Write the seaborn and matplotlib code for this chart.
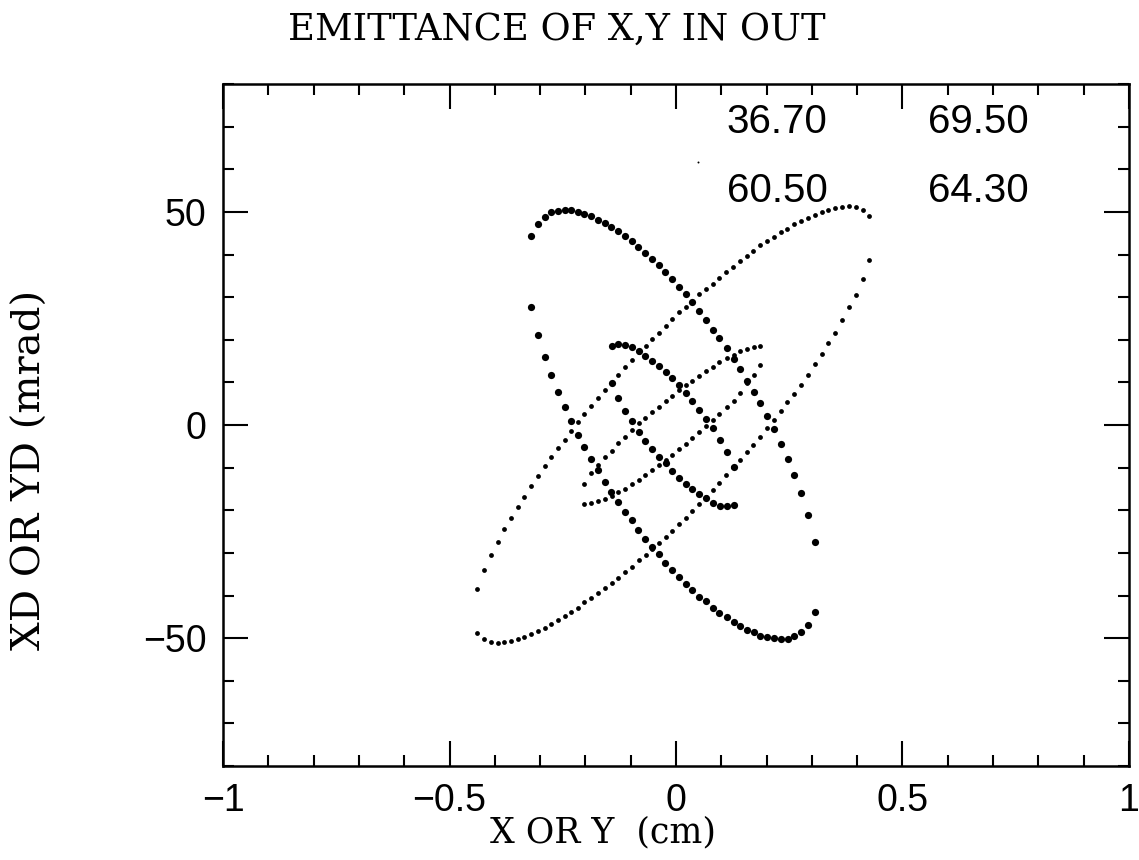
import numpy as np
import pandas as pd
import matplotlib.pyplot as plt
import seaborn as sns
from matplotlib.ticker import MultipleLocator

# big ellipse, negative tilt (heavy dots): one x grid, upper and lower arc
big_neg_x = [-0.320, -0.305, -0.290, -0.275, -0.260, -0.246, -0.231, -0.216, -0.202, -0.187, -0.172,
             -0.157, -0.143, -0.127, -0.113, -0.098, -0.083, -0.068, -0.053, -0.038, -0.024, -0.008,
             0.007, 0.021, 0.035, 0.051, 0.066, 0.081, 0.096, 0.112, 0.127, 0.142, 0.157, 0.172,
             0.186, 0.200, 0.217, 0.232, 0.247, 0.261, 0.277, 0.291, 0.307]
big_neg_up = [44.3, 47.2, 48.9, 49.9, 50.3, 50.4, 50.4, 50.0, 49.6, 49.0, 48.2, 47.4, 46.5, 45.5, 44.4,
              43.2, 41.8, 40.4, 39.0, 37.5, 35.8, 34.3, 32.4, 30.7, 28.9, 26.8, 24.6, 22.4, 20.3, 18.0,
              15.6, 13.1, 10.4, 7.7, 5.1, 2.1, -1.0, -4.5, -8.0, -11.8, -16.0, -21.1, -27.4]
big_neg_lo = [27.6, 21.1, 16.0, 11.7, 7.8, 4.3, 1.0, -2.3, -5.2, -8.0, -10.6, -13.3, -15.6, -18.0, -20.3,
              -22.4, -24.6, -26.7, -28.7, -30.3, -32.3, -34.1, -35.6, -37.3, -38.8, -40.3, -41.4, -42.9,
              -44.0, -45.0, -46.1, -47.2, -48.1, -48.6, -49.5, -49.7, -50.0, -50.2, -50.1, -49.6, -48.6,
              -46.9, -43.9]

# big ellipse, positive tilt (light dots)
big_pos_x = [-0.439, -0.423, -0.408, -0.394, -0.379, -0.364, -0.349, -0.335, -0.319, -0.305, -0.290,
             -0.275, -0.260, -0.246, -0.231, -0.216, -0.202, -0.187, -0.172, -0.157, -0.142, -0.127,
             -0.112, -0.097, -0.082, -0.067, -0.052, -0.038, -0.023, -0.008, 0.007, 0.021, 0.035,
             0.051, 0.066, 0.081, 0.096, 0.111, 0.126, 0.141, 0.157, 0.171, 0.186, 0.201, 0.216,
             0.231, 0.246, 0.261, 0.276, 0.291, 0.306, 0.322, 0.336, 0.351, 0.367, 0.382, 0.397,
             0.412, 0.427]
big_pos_up = [-38.5, -34.1, -30.5, -27.4, -24.5, -21.8, -19.2, -16.8, -14.4, -12.0, -9.6, -7.5, -5.5,
              -3.4, -1.4, 0.7, 2.5, 4.5, 6.3, 8.2, 9.8, 11.7, 13.5, 15.2, 17.2, 18.6, 20.2, 21.7, 23.2,
              24.9, 26.4, 27.8, 28.9, 30.7, 31.9, 33.2, 34.6, 36.0, 37.1, 38.5, 39.6, 40.8, 42.2, 43.2,
              44.2, 45.2, 46.1, 47.1, 47.9, 48.6, 49.3, 50.0, 50.5, 51.0, 51.2, 51.3, 51.1, 50.4, 49.1]
big_pos_lo = [-48.9, -50.3, -50.8, -51.1, -51.0, -50.7, -50.2, -49.7, -49.0, -48.3, -47.6, -46.7, -45.7,
              -44.8, -43.9, -42.9, -41.6, -40.7, -39.5, -38.2, -37.0, -35.9, -34.5, -33.2, -31.7, -30.5,
              -29.0, -27.7, -26.2, -24.8, -23.2, -21.7, -20.2, -18.5, -16.8, -15.2, -13.5, -11.8, -9.9,
              -8.3, -6.4, -4.6, -2.7, -0.6, 1.2, 3.4, 5.4, 7.3, 9.5, 11.7, 14.2, 16.7, 19.2, 21.7, 24.6,
              27.6, 30.6, 34.3, 38.7]

# small ellipse, negative tilt (heavy dots)
small_neg_x = [-0.142, -0.127, -0.112, -0.097, -0.082, -0.068, -0.053, -0.038, -0.023, -0.008,
               0.007, 0.021, 0.035, 0.051, 0.066, 0.082, 0.097, 0.112, 0.127]
small_neg_up = [18.6, 19.0, 18.7, 18.2, 17.3, 16.3, 15.1, 13.9, 12.5, 11.0, 9.4, 7.4, 5.7, 3.5, 1.3,
                -0.8, -3.5, -6.4, -9.8]
small_neg_lo = [9.8, 6.3, 3.4, 0.9, -1.6, -3.7, -5.7, -7.4, -9.0, -10.7, -12.5, -13.9, -15.1, -16.2,
                -17.2, -18.2, -18.9, -19.0, -18.7]

# small ellipse, positive tilt (light dots)
small_pos_x = [-0.202, -0.187, -0.172, -0.157, -0.142, -0.127, -0.112, -0.097, -0.082, -0.068, -0.052,
               -0.038, -0.023, -0.008, 0.007, 0.021, 0.036, 0.051, 0.066, 0.081, 0.096, 0.112, 0.127,
               0.142, 0.157, 0.172, 0.186]
small_pos_up = [-13.8, -11.3, -9.4, -7.6, -6.0, -4.3, -2.7, -1.2, 0.4, 1.6, 3.1, 4.3, 5.6, 6.8, 8.2, 9.3,
                10.3, 11.6, 12.7, 13.7, 14.7, 15.8, 16.4, 17.4, 17.9, 18.4, 18.5]
small_pos_lo = [-18.5, -18.2, -17.8, -17.4, -16.6, -15.6, -14.9, -13.8, -12.9, -11.7, -10.6, -9.3, -8.2,
                -7.0, -5.7, -4.5, -3.1, -1.7, -0.2, 1.2, 2.6, 4.2, 5.6, 7.6, 9.8, 11.7, 14.1]

# stray speck above the curves
speck_x = [0.048]
speck_y = [61.8]

# numbers printed in the upper right corner
ann_text = ["36.70", "69.50", "60.50", "64.30"]
ann_x = [0.223, 0.667, 0.223, 0.667]
ann_y = [71, 71, 55, 55]

x_ticks = [-1, -0.5, 0, 0.5, 1]
x_tick_labels = ["\u22121", "\u22120.5", "0", "0.5", "1"]
y_ticks = [-50, 0, 50]
y_tick_labels = ["\u221250", "0", "50"]


def arc(x, y, kind):
    return pd.DataFrame({"x": x, "y": y, "kind": kind})


df = pd.concat([
    arc(big_neg_x, big_neg_up, "heavy"), arc(big_neg_x, big_neg_lo, "heavy"),
    arc(small_neg_x, small_neg_up, "heavy"), arc(small_neg_x, small_neg_lo, "heavy"),
    arc(big_pos_x, big_pos_up, "light"), arc(big_pos_x, big_pos_lo, "light"),
    arc(small_pos_x, small_pos_up, "light"), arc(small_pos_x, small_pos_lo, "light"),
], ignore_index=True)

sns.set_style("ticks")
plt.rcParams["font.family"] = ["Liberation Sans", "DejaVu Sans"]
plt.rcParams["text.color"] = "black"
plt.rcParams["axes.labelcolor"] = "black"

fig = plt.figure(figsize=(11.39, 8.6), dpi=100)
ax = fig.add_axes([0.1958, 0.1093, 0.7954, 0.793])

sns.scatterplot(data=df[df["kind"] == "heavy"], x="x", y="y", color="black", s=27, linewidth=0, ax=ax)
sns.scatterplot(data=df[df["kind"] == "light"], x="x", y="y", color="black", s=12, linewidth=0, ax=ax)
ax.scatter(speck_x, speck_y, color="black", s=2, linewidth=0)

for t, xx, yy in zip(ann_text, ann_x, ann_y):
    ax.text(xx, yy, t, ha="center", va="center", fontsize=29, color="black")

ax.set_xlim(-1, 1)
ax.set_ylim(-80, 80)
ax.set_xticks(x_ticks, x_tick_labels)
ax.set_yticks(y_ticks, y_tick_labels)
ax.xaxis.set_minor_locator(MultipleLocator(0.1))
ax.yaxis.set_minor_locator(MultipleLocator(10))
ax.tick_params(which="both", direction="in", top=True, right=True, width=1.5,
               color="black", labelcolor="black")
ax.tick_params(which="major", length=18, labelsize=27, pad=12)
ax.tick_params(which="minor", length=8)
for sp in ax.spines.values():
    sp.set_linewidth(1.8)
    sp.set_color("black")

ax.set_xlabel("X OR Y  (cm)", family="DejaVu Serif", fontsize=25, color="black")
ax.xaxis.set_label_coords(0.419, -0.097)
ax.xaxis.label.set_va("center")
ax.set_ylabel("XD OR YD (mrad)", family="DejaVu Serif", fontsize=29, color="black")
ax.yaxis.set_label_coords(-0.213, 0.434)
ax.yaxis.label.set_va("center")

fig.text(0.489, 0.965, "EMITTANCE OF X,Y IN OUT", ha="center", va="center",
         family="DejaVu Serif", fontsize=26.5, color="black")

plt.savefig("out.png", dpi=100)
